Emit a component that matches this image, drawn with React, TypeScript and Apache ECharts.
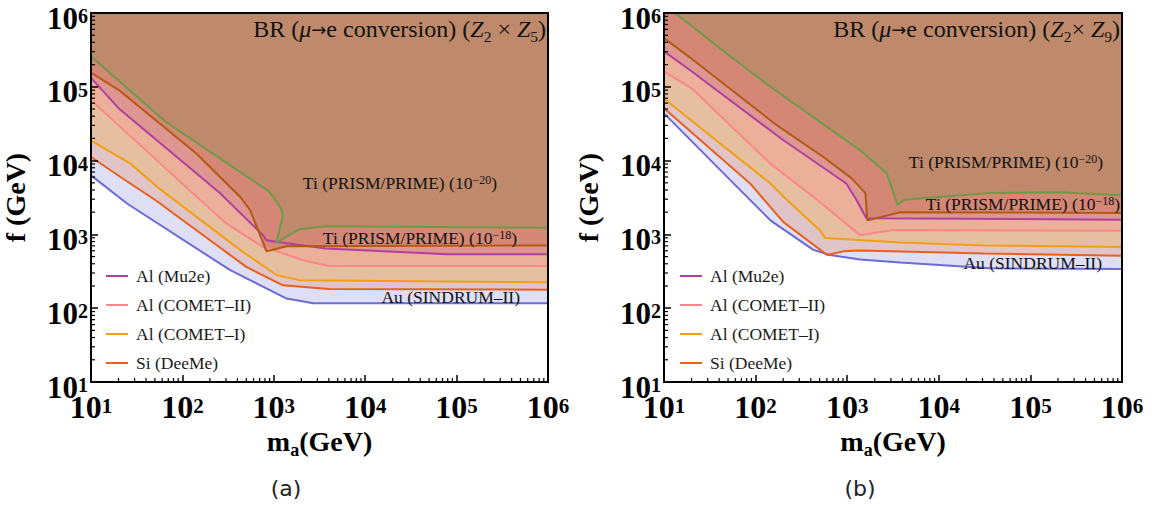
import React, { useEffect, useRef } from 'react';
import * as echarts from 'echarts';

// ---------- data: boundary curves, [m_a (GeV), f (GeV)] ----------
// Panel (a): Z2 x Z5
const sindrumA = [[10, 6300], [25, 2600], [330, 330], [1380, 135], [2700, 117], [1e6, 117]];
const deemeA = [[10, 11200], [21, 6000], [50, 2950], [500, 363], [1260, 204], [4000, 182], [1e6, 178]];
const cometIA = [[10, 18600], [27, 9100], [56, 4170], [427, 617], [1070, 282], [1900, 240], [1e6, 224]];
const cometIIA = [[10, 66000], [112, 4270], [302, 1410], [760, 676], [977, 617], [2090, 447], [4000, 372], [1e6, 372]];
const mu2eA = [[10, 132000], [20, 51300], [257, 3630], [760, 977], [832, 832], [1380, 759], [3700, 646], [79000, 537], [1e6, 537]];
const ti18A = [[10, 155000], [20, 91000], [141, 12600], [427, 3240], [550, 2140], [832, 589], [1380, 692], [1e6, 708]];
const ti20A = [[10, 257000], [65, 33900], [891, 3800], [1200, 2240], [1260, 1820], [1070, 776], [1900, 1175], [3700, 1290], [1e6, 1230]];

// Panel (b): Z2 x Z9
const sindrumB = [[10, 43600], [68, 3980], [145, 1550], [427, 617], [646, 525], [1380, 457], [3800, 417], [36300, 347], [1e6, 339]];
const deemeB = [[10, 51300], [87, 4900], [200, 1480], [603, 525], [912, 589], [1380, 603], [31600, 550], [1e6, 513]];
const cometIB = [[10, 69000], [145, 4900], [219, 2950], [500, 1150], [575, 891], [3800, 776], [31600, 708], [1e6, 676]];
const cometIIB = [[10, 162000], [20, 95500], [145, 9100], [468, 2950], [1380, 977], [3160, 1150], [1e6, 1120]];
const mu2eB = [[10, 302000], [19, 170000], [200, 19000], [977, 4900], [1260, 2950], [1620, 1660], [1e6, 1580]];
const ti18B = [[10, 457000], [21, 229000], [170, 30200], [550, 11200], [1120, 5750], [1580, 3630], [1660, 1550], [3800, 2000], [1e6, 1950]];
const ti20B = [[13.2, 1e6], [41, 331000], [145, 100000], [1380, 13800], [2700, 6760], [3550, 2510], [4170, 2950], [36300, 3630], [200000, 3720], [1e6, 3390]];

const curveNames = ['Au (SINDRUM–II)', 'Si (DeeMe)', 'Al (COMET–I)', 'Al (COMET–II)', 'Al (Mu2e)', 'Ti (PRISM/PRIME) (10^-18)', 'Ti (PRISM/PRIME) (10^-20)'];
const legendNames = ['Al (Mu2e)', 'Al (COMET–II)', 'Al (COMET–I)', 'Si (DeeMe)'];
const panelCaptions = ['(a)', '(b)'];
const panelTitleSubs = ['5', '9'];

const tickDecades = [10, 100, 1000, 1e4, 1e5];
const minorMultipliers = [2, 3, 4, 5, 6, 7, 8, 9];

// ---------- styles ----------
const lineColors = ['#6b6bd6', '#e8601c', '#f0a014', '#fa8888', '#b0409e', '#b35a12', '#6e9a48'];
const fillColors = ['#dedef4', '#e0c4c7', '#e6bfa0', '#ebaf9a', '#de9693', '#d48775', '#bf8a6b'];

const SERIF = 'Liberation Serif';
const X_MIN = 10, X_MAX = 1e6, Y_MIN = 10, Y_MAX = 1e6;

const panelLines = [
  [sindrumA, deemeA, cometIA, cometIIA, mu2eA, ti18A, ti20A],
  [sindrumB, deemeB, cometIB, cometIIB, mu2eB, ti18B, ti20B],
];

const gridBoxes = [
  { left: 89, top: 13, width: 459, height: 369 },
  { left: 664, top: 13, width: 458, height: 369 },
];

const minorTickValues = tickDecades.flatMap((d) => minorMultipliers.map((k) => k * d));

const xLabelRich = {
  b: { fontFamily: SERIF, fontWeight: 'bold', fontSize: 32, color: '#000', lineHeight: 24 },
  s: { fontFamily: SERIF, fontWeight: 'bold', fontSize: 21, color: '#000', verticalAlign: 'top', lineHeight: 10 },
};
const yLabelRich = {
  b: { fontFamily: SERIF, fontWeight: 'bold', fontSize: 31, color: '#000', lineHeight: 24 },
  s: { fontFamily: SERIF, fontWeight: 'bold', fontSize: 20, color: '#000', verticalAlign: 'top', lineHeight: 12 },
};
const expFormatter = (v: number) => `{b|10}{s|${Math.round(Math.log10(v))}}`;

function buildOption() {
  const xAxis: any[] = [];
  const yAxis: any[] = [];
  const series: any[] = [];
  const legend: any[] = [];
  const graphic: any[] = [];

  const frameLine = { show: true, onZero: false, lineStyle: { color: '#000', width: 2 } };

  [0, 1].forEach((p) => {
    xAxis.push({
      type: 'log', logBase: 10, gridIndex: p, min: X_MIN, max: X_MAX, position: 'bottom', z: 10,
      axisLine: frameLine,
      axisTick: { show: true, inside: true, length: 7, lineStyle: { color: '#000', width: 1.5 } },
      splitLine: { show: false },
      axisLabel: { formatter: expFormatter, rich: xLabelRich, margin: 13 },
      name: '{m|m}{a|a}{m|(GeV)}', nameLocation: 'middle', nameGap: 40,
      nameTextStyle: {
        rich: {
          m: { fontFamily: SERIF, fontWeight: 'bold', fontSize: 28, color: '#000', lineHeight: 34 },
          a: { fontFamily: SERIF, fontWeight: 'bold', fontSize: 18, color: '#000', verticalAlign: 'bottom' },
        },
      },
    });
    xAxis.push({
      type: 'log', logBase: 10, gridIndex: p, min: X_MIN, max: X_MAX, position: 'top', z: 10,
      axisLine: frameLine, axisTick: { show: false }, axisLabel: { show: false }, splitLine: { show: false },
    });
    yAxis.push({
      type: 'log', logBase: 10, gridIndex: p, min: Y_MIN, max: Y_MAX, position: 'left', z: 10,
      axisLine: frameLine,
      axisTick: { show: true, inside: true, length: 7, lineStyle: { color: '#000', width: 1.5 } },
      splitLine: { show: false },
      axisLabel: { formatter: expFormatter, rich: yLabelRich, margin: 3, padding: [10, 0, 0, 0] },
      name: 'f (GeV)', nameLocation: 'middle', nameGap: 62,
      nameTextStyle: { fontFamily: SERIF, fontWeight: 'bold', fontSize: 28, color: '#000' },
    });
    yAxis.push({
      type: 'log', logBase: 10, gridIndex: p, min: Y_MIN, max: Y_MAX, position: 'right', z: 10,
      axisLine: frameLine, axisTick: { show: false }, axisLabel: { show: false }, splitLine: { show: false },
    });

    const xi = 2 * p;
    const lines = panelLines[p];

    // filled exclusion regions (each region: above a curve up to the top of the frame)
    series.push({
      type: 'custom', xAxisIndex: xi, yAxisIndex: xi, z: 1, silent: true, clip: true,
      data: lines.map(() => [X_MIN, Y_MAX]),
      renderItem: (params: any, api: any) => {
        const pts = lines[params.dataIndex].map((pt) => api.coord(pt));
        pts.push(api.coord([X_MAX, Y_MAX]));
        pts.push(api.coord([X_MIN, Y_MAX]));
        return { type: 'polygon', shape: { points: pts }, style: { fill: fillColors[params.dataIndex] } };
      },
    });

    // boundary lines
    lines.forEach((ln, i) => {
      series.push({
        type: 'line', name: curveNames[i], xAxisIndex: xi, yAxisIndex: xi, data: ln,
        showSymbol: false, symbol: 'none', z: 3, silent: true, clip: true,
        lineStyle: { color: lineColors[i], width: 2 }, itemStyle: { color: lineColors[i] },
      });
    });

    // minor log ticks
    series.push({
      type: 'custom', xAxisIndex: xi, yAxisIndex: xi, z: 11, silent: true, clip: false,
      data: minorTickValues.map((v) => [v, Y_MIN]),
      renderItem: (params: any, api: any) => {
        const c = api.coord([api.value(0), Y_MIN]);
        return { type: 'line', shape: { x1: c[0], y1: c[1], x2: c[0], y2: c[1] - 4 }, style: { stroke: '#000', lineWidth: 1.2 } };
      },
    });
    series.push({
      type: 'custom', xAxisIndex: xi, yAxisIndex: xi, z: 11, silent: true, clip: false,
      data: minorTickValues.map((v) => [X_MIN, v]),
      renderItem: (params: any, api: any) => {
        const c = api.coord([X_MIN, api.value(1)]);
        return { type: 'line', shape: { x1: c[0], y1: c[1], x2: c[0] + 4, y2: c[1] }, style: { stroke: '#000', lineWidth: 1.2 } };
      },
    });

    legend.push({
      data: legendNames, orient: 'vertical', left: p === 0 ? 106 : 680, top: 267, padding: 0,
      itemGap: 11, icon: 'rect', itemWidth: 22, itemHeight: 2, selectedMode: false,
      textStyle: { fontFamily: SERIF, fontSize: 17.5, color: '#1a1a1a', padding: [0, 0, 0, 3] },
    });
  });

  const annRich = {
    n: { fontFamily: SERIF, fontSize: 17.5, fill: '#111' },
    s: { fontFamily: SERIF, fontSize: 12, fill: '#111', verticalAlign: 'top' },
  };
  const annotations = [
    { x: 497, y: 183, text: '{n|Ti (PRISM/PRIME) (10}{s|−20}{n|)}' },
    { x: 517, y: 238, text: '{n|Ti (PRISM/PRIME) (10}{s|−18}{n|)}' },
    { x: 520, y: 297, text: '{n|Au (SINDRUM–II)}' },
    { x: 1103, y: 162, text: '{n|Ti (PRISM/PRIME) (10}{s|−20}{n|)}' },
    { x: 1120, y: 204, text: '{n|Ti (PRISM/PRIME) (10}{s|−18}{n|)}' },
    { x: 1102, y: 263, text: '{n|Au (SINDRUM–II)}' },
  ];
  annotations.forEach((a) => {
    graphic.push({
      type: 'text', x: a.x, y: a.y, z: 20, silent: true,
      style: { text: a.text, align: 'right', verticalAlign: 'middle', rich: annRich },
    });
  });

  const titleRich = {
    n: { fontFamily: SERIF, fontSize: 24, fill: '#111', lineHeight: 30 },
    i: { fontFamily: SERIF, fontSize: 24, fontStyle: 'italic', fill: '#111', lineHeight: 30 },
    a: { fontFamily: 'DejaVu Sans', fontSize: 18, fill: '#111', lineHeight: 30 },
    sub: { fontFamily: SERIF, fontSize: 15.5, fill: '#111', verticalAlign: 'bottom' },
  };
  [0, 1].forEach((p) => {
    const rx = gridBoxes[p].left + gridBoxes[p].width - 2;
    graphic.push({
      type: 'text', x: rx, y: 29, z: 20, silent: true,
      style: {
        text: `{n|BR (}{i|μ}{a|→}{n|e conversion) (}{i|Z}{sub|2}{n|${p === 0 ? ' ' : ''}× }{i|Z}{sub|${panelTitleSubs[p]}}{n|)}`,
        align: 'right', verticalAlign: 'middle', rich: titleRich,
      },
    });
    graphic.push({
      type: 'text', x: p === 0 ? 286 : 860, y: 488, z: 20, silent: true,
      style: { text: panelCaptions[p], align: 'center', verticalAlign: 'middle', fontFamily: 'DejaVu Sans', fontSize: 22, fill: '#222' },
    });
  });

  return {
    animation: false,
    backgroundColor: '#ffffff',
    grid: gridBoxes.map((g) => ({ ...g, containLabel: false })),
    xAxis, yAxis, series, legend, graphic,
  };
}

export default function App() {
  const ref = useRef<HTMLDivElement>(null);
  useEffect(() => {
    if (!ref.current) return;
    const chart = echarts.init(ref.current, undefined, { renderer: 'svg' });
    chart.setOption(buildOption() as any);
    return () => chart.dispose();
  }, []);
  return <div ref={ref} style={{ position: 'fixed', left: 0, top: 0, width: 1157, height: 506 }} />;
}
